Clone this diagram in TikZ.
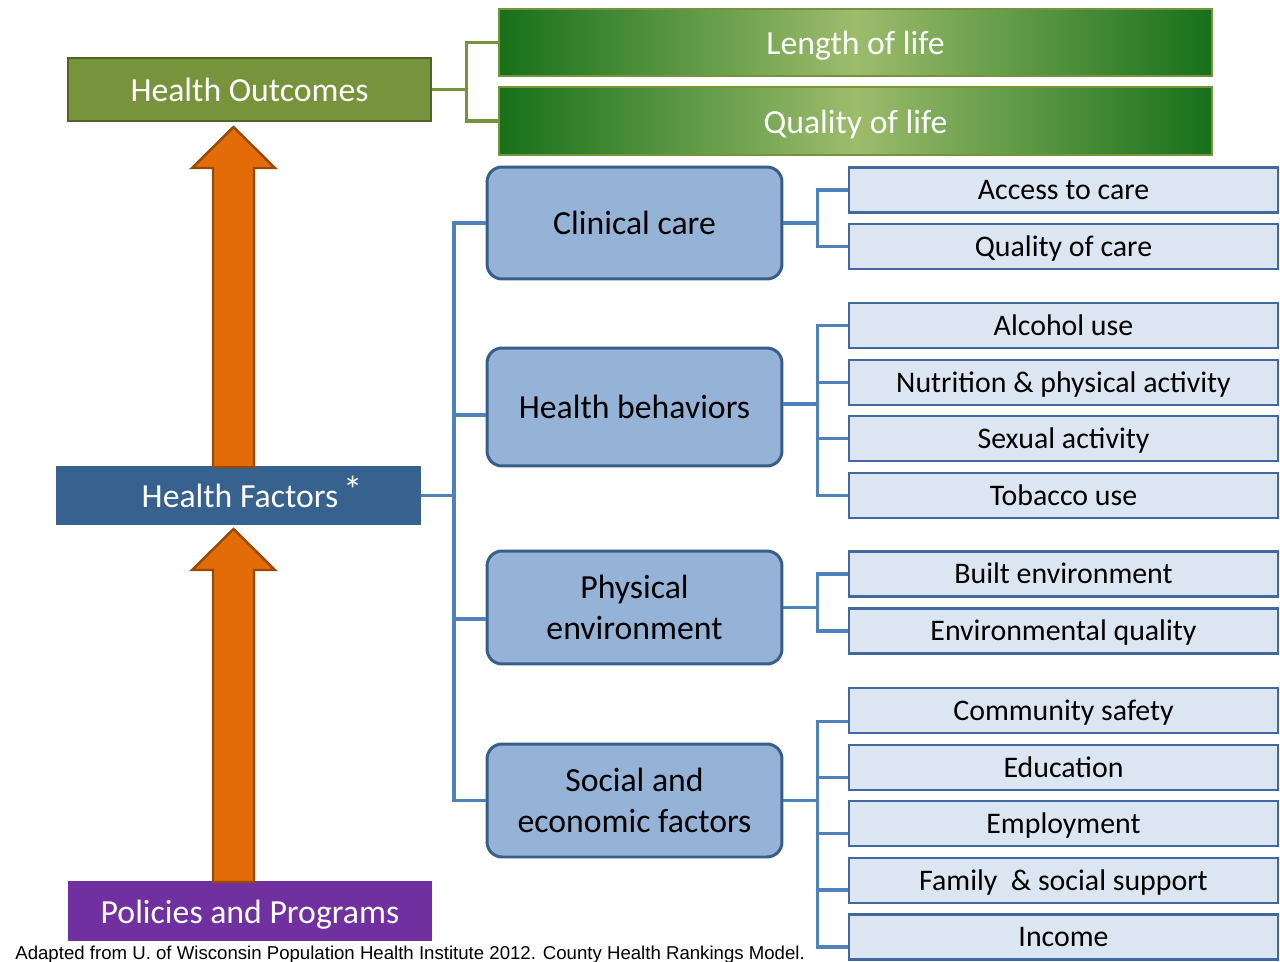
\documentclass[tikz,border=0pt]{standalone}
\usepackage{fontspec}
\setmainfont{Carlito}
\newfontfamily\notefont{Liberation Sans}
\usetikzlibrary{calc}

\definecolor{outFill}{HTML}{77933C}
\definecolor{outLine}{HTML}{4F6228}
\definecolor{lifeDark}{HTML}{17701A}
\definecolor{lifeLight}{HTML}{9DBC6C}
\definecolor{factFill}{HTML}{37618F}
\definecolor{polFill}{HTML}{7030A0}
\definecolor{arrFill}{HTML}{E36C09}
\definecolor{arrLine}{HTML}{984807}
\definecolor{catFill}{HTML}{95B3D7}
\definecolor{catLine}{HTML}{385D8A}
\definecolor{subFill}{HTML}{DCE6F2}
\definecolor{subLine}{HTML}{41699C}
\definecolor{linkBlue}{HTML}{4F81BD}

\begin{document}
\begin{tikzpicture}[
    x=0.02cm, y=-0.02cm,
    % Define box looks locally
    bigText/.style={font=\fontsize{19.2}{23}\selectfont, align=center},
    oneLine/.style={text height=19.4pt, text depth=5.3pt},
    mainBox/.style={bigText, oneLine, text=white, inner sep=0pt, minimum height=1.2cm},
    lifeBox/.style={bigText, oneLine, text=white, draw=outFill, line width=1.6pt,
        left color=lifeDark, right color=lifeDark, middle color=lifeLight,
        minimum width=14.26cm, minimum height=1.34cm, inner sep=0pt},
    catBox/.style={bigText, draw=catLine, line width=1.7pt, fill=catFill,
        rounded corners=0.3cm, minimum width=5.9cm, inner sep=0pt},
    subBox/.style={draw=subLine, line width=1.2pt, fill=subFill,
        minimum width=8.58cm, minimum height=0.9cm, inner sep=0pt,
        text height=15pt, text depth=4pt,
        font=\fontsize{17}{20}\selectfont},
    blueLink/.style={draw=linkBlue, line width=1.8pt},
    greenLink/.style={draw=outFill, line width=1.8pt},
    fatArrow/.style={fill=arrFill, draw=arrLine, line width=1.4pt, line join=miter}
]
    \useasboundingbox (0,0) rectangle (1280,962);

    % --- LEFT COLUMN ---
    \node[mainBox, fill=outFill, draw=outLine, line width=1.6pt,
        minimum width=7.26cm, minimum height=1.26cm] (outcomes) at (249.5,89.5) {Health Outcomes};
    \node[mainBox, fill=factFill, minimum width=7.3cm, minimum height=1.18cm]
        (factors) at (238.5,495.5) {\hspace{0.55cm}Health Factors\hspace{3pt}\raisebox{0.25ex}{\fontsize{22}{22}\selectfont *}};
    \node[mainBox, fill=polFill, minimum width=7.28cm] (policies) at (250,911) {Policies and Programs};

    % --- BIG ORANGE ARROWS ---
    \coordinate (upBase) at (233.5,467);
    \coordinate (upTip) at (233.5,127);
    \coordinate (lowBase) at (233.5,882);
    \coordinate (lowTip) at (233.5,529);
    \draw[fatArrow] ($(upBase)+(-20.5,0)$) -- ($(upTip)+(-20.5,41)$) -- ($(upTip)+(-41.5,41)$)
        -- (upTip) -- ($(upTip)+(41.5,41)$) -- ($(upTip)+(20.5,41)$) -- ($(upBase)+(20.5,0)$) -- cycle;
    \draw[fatArrow] ($(lowBase)+(-20.5,0)$) -- ($(lowTip)+(-20.5,41)$) -- ($(lowTip)+(-41.5,41)$)
        -- (lowTip) -- ($(lowTip)+(41.5,41)$) -- ($(lowTip)+(20.5,41)$) -- ($(lowBase)+(20.5,0)$) -- cycle;

    % --- OUTCOME BARS ---
    \node[lifeBox] (length) at (855.5,42.5) {Length of life};
    \node[lifeBox, minimum height=1.36cm] (quality) at (855.5,121) {Quality of life};

    \draw[greenLink] (outcomes.east) -- ++(34,0) coordinate (outJoin);
    \draw[greenLink] (outJoin) |- (length.west);
    \draw[greenLink] (outJoin) |- (quality.west);

    % --- FACTOR GROUPS ---
    \node[catBox, minimum height=2.24cm] (clinical) at (634.5,223) {Clinical care};
    \node[catBox, minimum height=2.36cm] (behave) at (634.5,407) {Health behaviors};
    \node[catBox, minimum height=2.26cm] (physical) at (634.5,607.5) {Physical\\environment};
    \node[catBox, minimum height=2.26cm] (social) at (634.5,800.5) {Social and\\economic factors};

    \coordinate (trunk) at (454,495.5);
    \draw[blueLink] (factors.east) -- (trunk);
    \draw[blueLink] (trunk) |- (clinical.west);
    \draw[blueLink] (trunk) |- ([yshift=-0.16cm]behave.west);
    \draw[blueLink] (trunk) |- ([yshift=-0.23cm]physical.west);
    \draw[blueLink] (trunk) |- (social.west);

    % --- DETAIL BOXES ---
    \node[subBox] (access) at (1063.5,190) {Access to care};
    \node[subBox] (carequal) at (1063.5,246.5) {Quality of care};

    \node[subBox] (alcohol) at (1063.5,325.5) {Alcohol use};
    \node[subBox] (nutrition) at (1063.5,382.5) {Nutrition \& physical activity};
    \node[subBox] (sexual) at (1063.5,438.5) {Sexual activity};
    \node[subBox] (tobacco) at (1063.5,495.5) {Tobacco use};

    \node[subBox] (built) at (1063.5,574) {Built environment};
    \node[subBox] (envqual) at (1063.5,631) {Environmental quality};

    \node[subBox] (safety) at (1063.5,710.5) {Community safety};
    \node[subBox] (education) at (1063.5,767.5) {Education};
    \node[subBox] (employ) at (1063.5,823.5) {Employment};
    \node[subBox] (family) at (1063.5,880.5) {Family~ \& social support};
    \node[subBox] (income) at (1063.5,937) {Income};

    % --- DETAIL LINKS ---
    \draw[blueLink] (clinical.east) -- ++(34,0) coordinate (clinJoin);
    \draw[blueLink] (clinJoin) |- (access.west);
    \draw[blueLink] (clinJoin) |- (carequal.west);

    \draw[blueLink] ([yshift=0.06cm]behave.east) -- ++(34,0) coordinate (behJoin);
    \draw[blueLink] (behJoin) |- (alcohol.west);
    \draw[blueLink] (behJoin) |- (nutrition.west);
    \draw[blueLink] (behJoin) |- (sexual.west);
    \draw[blueLink] (behJoin) |- (tobacco.west);

    \draw[blueLink] (physical.east) -- ++(34,0) coordinate (physJoin);
    \draw[blueLink] (physJoin) |- (built.west);
    \draw[blueLink] (physJoin) |- (envqual.west);

    \draw[blueLink] (social.east) -- ++(34,0) coordinate (socJoin);
    \draw[blueLink] (socJoin) |- ([yshift=-0.22cm]safety.west);
    \draw[blueLink] (socJoin) |- ([yshift=-0.2cm]education.west);
    \draw[blueLink] (socJoin) |- ([yshift=-0.2cm]employ.west);
    \draw[blueLink] (socJoin) |- ([yshift=-0.19cm]family.west);
    \draw[blueLink] (socJoin) |- ([yshift=-0.2cm]income.west);

    % --- SOURCE NOTE ---
    \node[font=\notefont\fontsize{10.6}{12}\selectfont, anchor=base west, inner sep=0pt]
        (source) at (15,959) {Adapted from U. of Wisconsin Population Health Institute 2012. County Health Rankings Model.};

\end{tikzpicture}
\end{document}
